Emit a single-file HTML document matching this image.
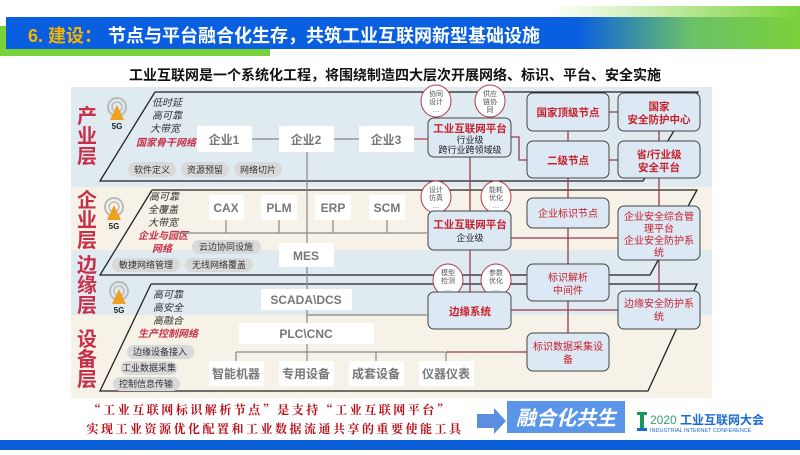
<!DOCTYPE html>
<html><head><meta charset="utf-8"><style>
body{margin:0;width:800px;height:450px;overflow:hidden;background:#fff;font-family:"Liberation Sans","Noto Sans CJK SC",sans-serif}
svg text{font-family:"Liberation Sans","Noto Sans CJK SC",sans-serif}
</style></head><body>
<svg width="800" height="450" viewBox="0 0 800 450" xmlns="http://www.w3.org/2000/svg">
<defs>
<linearGradient id="tb" x1="0" x2="1" y1="0" y2="0">
<stop offset="0" stop-color="#0a5fe0"/><stop offset="0.72" stop-color="#0a5fe0"/><stop offset="0.86" stop-color="#6ac06a"/><stop offset="1" stop-color="#7ad23a"/></linearGradient>
<linearGradient id="gt" x1="0" x2="1"><stop offset="0" stop-color="#fff"/><stop offset="1" stop-color="#7ad23a"/></linearGradient>
</defs>
<rect x="550" y="6" width="250" height="42" fill="url(#gt)"/>
<rect x="0" y="26" width="270" height="30" fill="#7ad23a"/>
<rect x="6" y="17" width="794" height="32" fill="url(#tb)"/>
<text x="28" y="42" font-size="18" font-weight="bold" fill="#f5b400">6. 建设：</text>
<text x="108" y="42" font-size="18" font-weight="bold" fill="#fff">节点与平台融合化生存，共筑工业互联网新型基础设施</text>
<text x="395" y="80" font-size="14" font-weight="bold" fill="#111" text-anchor="middle">工业互联网是一个系统化工程，将围绕制造四大层次开展网络、标识、平台、安全实施</text>

<rect x="71" y="87" width="641" height="100" fill="#dfeaf1"/>
<rect x="71" y="187" width="641" height="63" fill="#f6f2e7"/>
<rect x="71" y="250" width="641" height="65" fill="#dfeaf1"/>
<rect x="71" y="315" width="641" height="83" fill="#f6f2e7"/>

<g fill="none" stroke="#222" stroke-width="1.3">
<polyline points="155,92 698,92 643,181 100,181 155,92"/>
<polyline points="152,190 697,190 650,275 100,275 152,190"/>
<polyline points="151,284 697,284 648,391 100,391 151,284"/>
</g>

<g font-size="20" font-weight="bold" fill="#c8304a" text-anchor="middle">
<text x="87" y="123">产</text><text x="87" y="143">业</text><text x="87" y="163">层</text>
<text x="87" y="207">企</text><text x="87" y="227">业</text><text x="87" y="247">层</text>
<text x="87" y="272">边</text><text x="87" y="292">缘</text><text x="87" y="312">层</text>
<text x="87" y="346">设</text><text x="87" y="366">备</text><text x="87" y="386">层</text>
</g>

<g>
<g transform="translate(117,101)"><circle cx="0" cy="6" r="9" fill="none" stroke="#bbb" stroke-width="2"/><circle cx="0" cy="6" r="5" fill="none" stroke="#bbb" stroke-width="1.5"/><polygon points="0,4 -7,19 7,19" fill="#f0a020"/><text x="0" y="28" font-size="8" font-weight="bold" text-anchor="middle" fill="#222">5G</text></g>
<g transform="translate(114,201)"><circle cx="0" cy="6" r="9" fill="none" stroke="#bbb" stroke-width="2"/><circle cx="0" cy="6" r="5" fill="none" stroke="#bbb" stroke-width="1.5"/><polygon points="0,4 -7,19 7,19" fill="#f0a020"/><text x="0" y="28" font-size="8" font-weight="bold" text-anchor="middle" fill="#222">5G</text></g>
<g transform="translate(119,285)"><circle cx="0" cy="6" r="9" fill="none" stroke="#bbb" stroke-width="2"/><circle cx="0" cy="6" r="5" fill="none" stroke="#bbb" stroke-width="1.5"/><polygon points="0,4 -7,19 7,19" fill="#f0a020"/><text x="0" y="28" font-size="8" font-weight="bold" text-anchor="middle" fill="#222">5G</text></g>
</g>

<g font-size="10" font-style="italic" fill="#333">
<text x="152" y="106">低时延</text><text x="152" y="119">高可靠</text><text x="150" y="132">大带宽</text>
<text x="136" y="146" fill="#c8304a" font-weight="bold">国家骨干网络</text>
<text x="149" y="200">高可靠</text><text x="148" y="213">全覆盖</text><text x="148" y="226">大带宽</text>
<text x="138" y="239" fill="#c8304a" font-weight="bold">企业与园区</text><text x="152" y="252" fill="#c8304a" font-weight="bold">网络</text>
<text x="153" y="298">高可靠</text><text x="153" y="311">高安全</text><text x="153" y="324">高融合</text>
<text x="138" y="337" fill="#c8304a" font-weight="bold">生产控制网络</text>
</g>

<g font-size="9" fill="#333" text-anchor="middle">
<rect x="128" y="162" width="48" height="15" rx="7.5" fill="#d9d9d9"/><text x="152" y="173">软件定义</text>
<rect x="181" y="162" width="48" height="15" rx="7.5" fill="#d9d9d9"/><text x="205" y="173">资源预留</text>
<rect x="234" y="162" width="48" height="15" rx="7.5" fill="#d9d9d9"/><text x="258" y="173">网络切片</text>
<rect x="192" y="240" width="69" height="14" rx="7" fill="#d9d9d9"/><text x="226" y="250">云边协同设施</text>
<rect x="112" y="258" width="68" height="14" rx="7" fill="#d9d9d9"/><text x="146" y="268">敏捷网络管理</text>
<rect x="185" y="258" width="68" height="14" rx="7" fill="#d9d9d9"/><text x="219" y="268">无线网络覆盖</text>
<rect x="127" y="345" width="67" height="14" rx="7" fill="#d9d9d9"/><text x="160" y="355">边缘设备接入</text>
<rect x="121" y="361" width="56" height="14" rx="7" fill="#d9d9d9"/><text x="149" y="371">工业数据采集</text>
<rect x="113" y="377" width="67" height="14" rx="7" fill="#d9d9d9"/><text x="146" y="387">控制信息传输</text>
</g>

<g stroke="#888" stroke-width="1.2" fill="none">
<line x1="252" y1="139" x2="359" y2="139"/>
<line x1="307" y1="152" x2="307" y2="352"/>
<line x1="175" y1="233" x2="427" y2="233"/>
<line x1="226" y1="220" x2="226" y2="233"/><line x1="279" y1="220" x2="279" y2="233"/><line x1="333" y1="220" x2="333" y2="233"/><line x1="387" y1="220" x2="387" y2="233"/>
<line x1="307" y1="315" x2="427" y2="315"/>
<line x1="236" y1="352" x2="445" y2="352"/>
<line x1="236" y1="352" x2="236" y2="361"/><line x1="307" y1="352" x2="307" y2="361"/><line x1="376" y1="352" x2="376" y2="361"/><line x1="446" y1="352" x2="446" y2="361"/>
</g>
<line x1="414" y1="139" x2="428" y2="139" stroke="#b03a4a" stroke-width="1.2"/>

<g fill="#fff">
<rect x="197" y="126" width="55" height="26"/><rect x="279" y="126" width="55" height="26"/><rect x="359" y="126" width="55" height="26"/>
<rect x="209" y="195" width="35" height="25"/><rect x="261" y="195" width="36" height="25"/><rect x="315" y="195" width="36" height="25"/><rect x="369" y="195" width="36" height="25"/>
<rect x="279" y="243" width="55" height="24"/>
<rect x="261" y="289" width="91" height="21"/>
<rect x="239" y="323" width="135" height="21"/>
<rect x="209" y="361" width="55" height="25"/><rect x="279" y="361" width="55" height="25"/><rect x="349" y="361" width="55" height="25"/><rect x="419" y="361" width="55" height="25"/>
</g>
<g font-size="12" font-weight="bold" fill="#777" text-anchor="middle">
<text x="224" y="144">企业1</text><text x="306" y="144">企业2</text><text x="386" y="144">企业3</text>
<text x="226" y="212">CAX</text><text x="279" y="212">PLM</text><text x="333" y="212">ERP</text><text x="387" y="212">SCM</text>
<text x="306" y="260">MES</text>
<text x="306" y="304">SCADA\DCS</text>
<text x="306" y="338">PLC\CNC</text>
<text x="236" y="378">智能机器</text><text x="306" y="378">专用设备</text><text x="376" y="378">成套设备</text><text x="446" y="378">仪器仪表</text>
</g>

<g stroke="#9b3b4a" stroke-width="1.3" fill="none">
<line x1="470" y1="157" x2="470" y2="292"/>
<line x1="568" y1="131" x2="568" y2="333"/>
<line x1="659" y1="131" x2="659" y2="291"/>
<line x1="609" y1="112" x2="618" y2="112"/><line x1="609" y1="160" x2="618" y2="160"/>
<polyline points="511,137 519,137 519,160 527,160"/>
<line x1="511" y1="238" x2="618" y2="238"/>
<line x1="511" y1="310" x2="618" y2="310"/>
<line x1="446" y1="352" x2="527" y2="352"/>
</g>

<g fill="#fff" stroke="#b03a4a" stroke-width="1">
<ellipse cx="436" cy="101" rx="15" ry="16"/><ellipse cx="490" cy="101" rx="15" ry="16"/>
<ellipse cx="436" cy="197" rx="15" ry="16"/><ellipse cx="496" cy="197" rx="15" ry="16"/>
<ellipse cx="448" cy="280" rx="15" ry="16"/><ellipse cx="496" cy="280" rx="15" ry="16"/>
</g>
<g font-size="7" fill="#555" text-anchor="middle">
<text x="436" y="96">协同</text><text x="436" y="104">设计</text><text x="436" y="112">…</text>
<text x="490" y="96">供应</text><text x="490" y="104">链协</text><text x="490" y="112">同</text>
<text x="436" y="192">设计</text><text x="436" y="200">仿真</text><text x="436" y="208">…</text>
<text x="496" y="192">能耗</text><text x="496" y="200">优化</text><text x="496" y="208">…</text>
<text x="448" y="275">模型</text><text x="448" y="283">检测</text><text x="448" y="291">…</text>
<text x="496" y="275">参数</text><text x="496" y="283">优化</text><text x="496" y="291">…</text>
</g>

<g fill="#dce8f4" stroke="#444" stroke-width="1">
<rect x="428" y="118" width="83" height="39" rx="6"/>
<rect x="428" y="211" width="83" height="39" rx="6"/>
<rect x="428" y="292" width="83" height="37" rx="6"/>
<rect x="527" y="93" width="82" height="38" rx="6"/>
<rect x="527" y="141" width="82" height="37" rx="6"/>
<rect x="527" y="198" width="82" height="30" rx="6"/>
<rect x="527" y="264" width="82" height="37" rx="6"/>
<rect x="527" y="333" width="82" height="38" rx="6"/>
<rect x="618" y="93" width="82" height="38" rx="6"/>
<rect x="618" y="141" width="82" height="37" rx="6"/>
<rect x="618" y="206" width="82" height="54" rx="6"/>
<rect x="618" y="291" width="82" height="38" rx="6"/>
</g>
<g text-anchor="middle" fill="#c8202a">
<text x="470" y="132" font-size="10.5" font-weight="bold">工业互联网平台</text>
<text x="470" y="143" font-size="9" fill="#222">行业级</text><text x="470" y="153" font-size="9" fill="#222">跨行业跨领域级</text>
<text x="470" y="228" font-size="10.5" font-weight="bold">工业互联网平台</text>
<text x="470" y="241" font-size="9" fill="#222">企业级</text>
<text x="470" y="315" font-size="10.5" font-weight="bold">边缘系统</text>
<text x="568" y="116" font-size="10.5" font-weight="bold">国家顶级节点</text>
<text x="568" y="164" font-size="10.5" font-weight="bold">二级节点</text>
<text x="568" y="217" font-size="10">企业标识节点</text>
<text x="568" y="281" font-size="10">标识解析</text><text x="568" y="294" font-size="10">中间件</text>
<text x="568" y="350" font-size="10">标识数据采集设</text><text x="568" y="363" font-size="10">备</text>
<text x="659" y="110" font-size="10.5" font-weight="bold">国家</text><text x="659" y="123" font-size="10.5" font-weight="bold">安全防护中心</text>
<text x="659" y="158" font-size="10.5" font-weight="bold">省/行业级</text><text x="659" y="171" font-size="10.5" font-weight="bold">安全平台</text>
<text x="659" y="220" font-size="10">企业安全综合管</text><text x="659" y="232" font-size="10">理平台</text>
<text x="659" y="244" font-size="10">企业安全防护系</text><text x="659" y="256" font-size="10">统</text>
<text x="659" y="307" font-size="10">边缘安全防护系</text><text x="659" y="320" font-size="10">统</text>
</g>

<g font-size="12" fill="#b8101a" text-anchor="middle" font-weight="bold">
<text x="270" y="414" style="font-family:'Noto Serif CJK SC',serif" letter-spacing="2.5">“工业互联网标识解析节点”是支持“工业互联网平台”</text>
<text x="275" y="433" style="font-family:'Noto Serif CJK SC',serif" letter-spacing="2.5">实现工业资源优化配置和工业数据流通共享的重要使能工具</text>
</g>
<polygon points="477,414 494,414 494,408 506,421 494,434 494,428 477,428" fill="#5a8fe0"/>
<rect x="507" y="401" width="118" height="32" fill="#5b95e8"/>
<text x="566" y="425" font-size="20" font-weight="bold" font-style="italic" fill="#fff" text-anchor="middle">融合化共生</text>
<rect x="637" y="412" width="10" height="3" fill="#1a9a5a"/><rect x="640" y="412" width="4" height="18" fill="#1a9a5a"/><rect x="637" y="428" width="10" height="3" fill="#1a6ad8"/>
<text x="650" y="424" font-size="12" fill="#3aa070">2020</text>
<text x="680" y="424" font-size="12" font-weight="bold" fill="#1a6ad8">工业互联网大会</text>
<text x="650" y="432" font-size="5.5" fill="#1a6ad8">INDUSTRIAL INTERNET CONFERENCE</text>
<rect x="0" y="440" width="800" height="10" fill="#0a5fd8"/>
</svg>
</body></html>
